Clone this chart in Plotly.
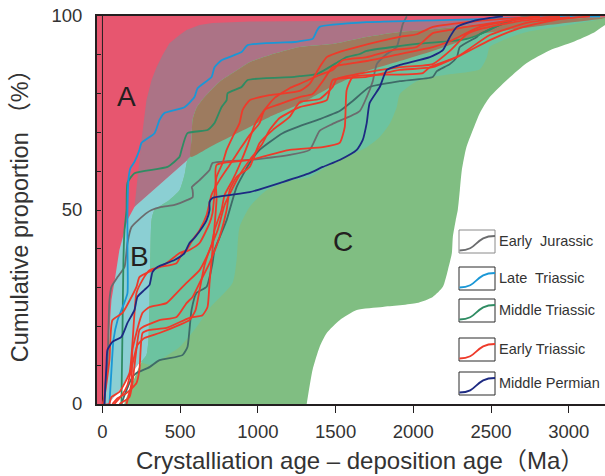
import plotly.graph_objects as go

# ---------------- field boundaries (x: Ma, y: %) ----------------
b_left_x = [13, 26, 45, 58, 84, 109, 161, 206, 219, 238, 251, 283, 316, 348, 386, 431, 496, 541, 625, 708, 947, 1269, 2235, 3233, 3300]
b_left_y = [0, 8.8, 19.1, 26.8, 33.2, 39.7, 47.4, 50.8, 55.1, 62.9, 68, 78.3, 83.5, 86.8, 89.9, 93, 95.1, 96.4, 97.7, 98.2, 98.6, 98.7, 99, 99.2, 99.2]
ab_low_x = [3300, 1500, 600, 547, 219]
ab_low_y = [90, 80, 64, 62.9, 51.3]
b_low_x = [45, 109, 193, 238, 251]
b_low_y = [0.3, 3.6, 8, 10.6, 10.8]
c_up_x = [3300, 3233, 2814, 2428, 2125, 1913, 1700, 1481, 1269, 1075, 947, 850, 753, 657, 605, 580, 573, 567]
c_up_y = [99.7, 99.7, 99.0, 97.9, 96.6, 95.9, 94.6, 92.8, 92.0, 89.9, 88.1, 85.6, 83.0, 79.1, 76.3, 73.2, 68.0, 63.7]
c_left_x = [547, 528, 496, 431, 335, 316, 309, 303, 296, 283, 251, 219, 174, 142, 142]
c_left_y = [62.9, 59.0, 55.1, 52.6, 50.0, 47.4, 39.7, 26.8, 16.5, 12.6, 10.8, 8.0, 3.6, 0.3, 0]
c_right_x = [1314, 1352, 1397, 1443, 1526, 1636, 1803, 2022, 2125, 2190, 2222, 2248, 2254, 2273, 2286, 2299, 2312, 2340, 2383, 2428, 2492, 2602, 2730, 2879, 3027, 3156, 3233, 3300]
c_right_y = [0, 8.8, 14.7, 18.3, 21.6, 24.2, 25, 26, 27.6, 30.2, 34.5, 38.9, 43, 47.4, 50, 55, 60.3, 66, 70.6, 75, 79.1, 83.5, 87.9, 91.2, 93.3, 95.6, 97.7, 99.5]
bc_edge_x = [251, 303, 367, 496, 605, 689, 837, 863, 882, 947, 1056, 1204, 1333, 1481, 1526, 1700, 1784, 1848, 1893, 1913, 2022, 2125, 2235, 2428, 2473, 2492, 2705, 2924, 3181, 3233, 3300]
bc_edge_y = [10.8, 10.1, 11.3, 14.7, 19.8, 24.7, 31.2, 37.1, 45.6, 50.8, 55.1, 57.5, 58.5, 62.1, 62.9, 66.2, 68.8, 72.2, 76.5, 79.9, 83.2, 84.3, 85, 86.3, 89.4, 92, 95.6, 97.2, 99, 99.5, 99.7]
a_low_x = [567, 689, 818, 947, 1075, 1269, 1481, 1700, 1913, 2125, 2344, 2428, 2814, 3201, 3233, 3300]
a_low_y = [63.7, 66.2, 68.8, 71.4, 74, 77.3, 81.9, 85.8, 88.4, 91, 94.1, 95.3, 97.4, 99.2, 99.5, 99.7]

# ---------------- cumulative curves ----------------
ej_x = [13, 19, 32, 45, 58, 97, 142, 161, 187, 283, 316, 380, 464, 547, 580, 580, 575, 625, 689, 708, 947, 1204, 1333, 1397, 1481, 1655, 1700, 1739, 1765, 1829, 1893, 1932, 1958]
ej_y = [0, 4.9, 9.5, 26.8, 30.2, 32.7, 35.3, 41.5, 45.6, 49.2, 50, 50.8, 51.3, 52.6, 53.3, 55.1, 55.9, 57.7, 60.3, 62.1, 62.9, 64.2, 65.5, 70.4, 72.2, 75.5, 79.1, 83.2, 87.6, 90.2, 92, 97.9, 99.9]

dt_x = [122, 135, 155, 193, 219, 303, 367, 515, 547, 560, 573, 605, 670, 708, 721, 766, 799, 863, 947, 1011, 1159, 1269, 1397, 1526, 1610, 1719, 1913, 2125, 2151, 2235, 2280, 2299, 2409, 2428, 2557, 2685, 2782]
dt_y = [0, 1.5, 3.6, 7, 8, 9.5, 11.3, 12.6, 14.7, 19.1, 24.2, 28.6, 30.2, 36.3, 39.7, 44.1, 47.4, 55.9, 62.1, 65.5, 69.8, 71.6, 73.4, 75.5, 78.1, 81.7, 83.2, 84.3, 85.8, 87.6, 89.4, 92, 94.6, 95.3, 97.7, 99.5, 99.9]

lt_x = [45, 58, 71, 97, 135, 161, 161, 161, 167, 180, 206, 238, 251, 335, 367, 399, 528, 592, 612, 702, 721, 766, 895, 934, 1236, 1269, 1352, 1378, 1397, 1700, 2428, 2814, 3201]
lt_y = [0, 8.8, 16.5, 21.6, 25.5, 28.6, 39.7, 50, 57.7, 60.8, 62.4, 65.5, 67.3, 69.8, 73.2, 75, 76.5, 79.1, 81.4, 84.3, 86.8, 88.6, 90.7, 92.5, 93.3, 93.5, 94.1, 96.1, 97.2, 98.4, 99.2, 99.7, 99.9]

mt_x = [122, 129, 135, 142, 155, 161, 206, 419, 496, 509, 547, 676, 721, 766, 799, 805, 895, 934, 1236, 1269, 1378, 1526, 1571, 1655, 1700, 2022, 2235, 2344, 2428, 2557, 2685, 2814]
mt_y = [0, 19.1, 37.1, 44.8, 50, 57, 59.5, 61.1, 63.7, 65.5, 69.8, 70.6, 72.4, 76.5, 78.3, 80.1, 81.7, 83.5, 84.3, 84.5, 85, 88.4, 89.4, 90.2, 91, 92.8, 93.5, 94.1, 95.3, 97.7, 99.5, 99.9]

mp_x = [13, 19, 26, 32, 64, 122, 161, 206, 225, 270, 303, 322, 354, 464, 528, 560, 592, 644, 670, 689, 689, 708, 947, 1159, 1333, 1417, 1526, 1636, 1674, 1700, 1719, 1784, 1829, 1913, 2106, 2190, 2235, 2280, 2383, 2492, 2576]
mp_y = [0, 4.9, 10.1, 13.9, 16, 17.3, 20.9, 24.2, 27.6, 29.4, 30.7, 34, 35.3, 37.1, 38.9, 41.5, 42.8, 45.6, 47.4, 50, 52.1, 53.1, 54.6, 57.2, 59.5, 61.1, 62.9, 65.5, 68, 72.4, 77.6, 81.7, 86.1, 87.4, 89.4, 91.2, 94.6, 97.2, 98.7, 99.5, 99.9]

et1_x = [64, 97, 155, 219, 238, 258, 303, 412, 560, 644, 676, 689, 708, 734, 734, 947, 1204, 1417, 1526, 1559, 1571, 1610, 1739, 2061, 2106, 2280, 2492, 2685, 2943, 3136]
et1_y = [0, 1.5, 2.8, 5.4, 8.8, 18.3, 19.1, 19.6, 22.2, 22.9, 25, 31.2, 39.7, 52.6, 61.6, 62.9, 65.5, 66.2, 67.3, 71.4, 80.9, 84.3, 84.8, 85.3, 86.8, 89.4, 93.8, 96.9, 99.2, 99.9]
et2_x = [45, 58, 109, 174, 193, 219, 258, 303, 367, 477, 515, 560, 625, 689, 708, 734, 773, 799, 837, 882, 902, 947, 1075, 1269, 1333, 1397, 1443, 1546, 1636, 1913, 2022, 2125, 2344, 2557, 2814]
et2_y = [0, 1.8, 3.1, 8, 15.7, 28.6, 32, 34.5, 35.3, 36.3, 38.9, 39.7, 41.5, 46.6, 49.2, 58.5, 62.1, 65.5, 68.8, 72.4, 75.8, 78.3, 79.6, 80.7, 82.5, 86.8, 89.4, 91, 92, 94.6, 95.3, 97.2, 98.4, 99.2, 99.9]
et3_x = [0, 13, 26, 45, 64, 129, 219, 238, 322, 412, 496, 541, 580, 625, 670, 702, 753, 818, 882, 947, 1011, 1043, 1140, 1269, 1352, 1417, 1481, 1571, 1700, 1913, 2125, 2235, 2428, 2685, 2943]
et3_y = [0, 1.8, 5.4, 11.3, 21.6, 23.5, 30.2, 32.7, 34.5, 36.3, 38.9, 39.7, 42.3, 44.8, 48.7, 53.9, 57.7, 61.6, 65.5, 69.3, 72.4, 75.8, 77.3, 79.1, 79.9, 83.2, 86.8, 87.6, 88.4, 90.2, 92, 93.5, 97.2, 99.2, 99.9]
et4_x = [109, 174, 193, 238, 258, 367, 477, 541, 580, 625, 689, 753, 799, 818, 863, 947, 1011, 1095, 1204, 1269, 1397, 1481, 1507, 1636, 1913, 2125, 2235, 2344, 2428, 2685, 3007]
et4_y = [0, 1.8, 5.4, 19.1, 19.8, 21.6, 22.4, 26, 27.6, 31.2, 36.3, 43, 50, 55.1, 58.5, 61.1, 67.3, 70.6, 74, 77.8, 78.6, 81.7, 83.8, 85, 86.8, 87.6, 91, 95.3, 96.6, 98.7, 99.7]
et5_x = [155, 187, 193, 258, 303, 412, 477, 541, 625, 670, 702, 721, 766, 786, 837, 882, 934, 979, 1043, 1108, 1204, 1269, 1397, 1481, 1546, 1700, 1868, 2022, 2125, 2235, 2344, 2769]
et5_y = [0, 5.4, 13.9, 23.5, 25, 26, 28.6, 31.2, 34.5, 37.9, 41, 44.8, 50, 53.9, 57.7, 61.6, 66.8, 71.9, 75.8, 78.9, 81.4, 82.5, 84.8, 86.1, 88.6, 89.4, 91.2, 92, 95.6, 96.4, 97.2, 99.7]
et6_x = [77, 122, 161, 199, 225, 270, 367, 496, 560, 599, 625, 657, 689, 741, 786, 831, 882, 947, 1024, 1075, 1140, 1269, 1443, 1481, 1700, 1913, 2125, 2299, 2492, 2750, 3072]
et6_y = [0, 2.1, 4.9, 11.3, 15.2, 17, 18.3, 20.4, 21.6, 24.2, 29.4, 35.8, 39.7, 44.8, 51.3, 55.1, 59, 62.9, 66.8, 70.6, 73.7, 76.5, 78.3, 83.5, 84.3, 86.1, 86.8, 89.9, 95.1, 98.4, 99.7]

x_ticks = [0, 500, 1000, 1500, 2000, 2500, 3000]
y_ticks = [0, 50, 100]
y_minor = [10, 20, 30, 40, 60, 70, 80, 90]
legend_names = ["Early  Jurassic", "Late  Triassic", "Middle Triassic", "Early Triassic", "Middle Permian"]
field_labels = ["A", "B", "C"]
field_label_x = [155, 238, 1546]
field_label_y = [79.3, 37.9, 42.0]

# ---------------- colours ----------------
C_A = "#E7566F"
C_AB = "#AC7386"
C_B = "#8BCFD3"
C_C = "#80BE82"
C_BC = "#6CC3A0"
C_ABC = "#9D7B5F"
COL_EJ = "#6B6C6E"
COL_DT = "#3F6B68"
COL_LT = "#1A97D6"
COL_MT = "#2F8C63"
COL_ET = "#EE3A2A"
COL_MP = "#1D2A82"
legend_cols = [COL_EJ, COL_LT, COL_MT, COL_ET, COL_MP]

fig = go.Figure()


def poly(x, y, color, shape="spline"):
    fig.add_trace(go.Scatter(x=x, y=y, mode="lines", fill="toself", fillcolor=color,
                             line=dict(width=0, color=color, shape=shape, smoothing=0.6),
                             hoverinfo="skip", showlegend=False))


poly([-40, 3300, 3300, -40], [-1, -1, 101, 101], C_A, "linear")
poly(b_left_x[7:] + ab_low_x, b_left_y[7:] + ab_low_y, C_AB, "linear")
lb_x = [13] + b_low_x + [350, 450, 560, 567, 547, 219] + b_left_x[:8][::-1]
lb_y = [0] + b_low_y + [12, 30, 55, 63.7, 62.9, 51.3] + b_left_y[:8][::-1]
poly(lb_x, lb_y, C_B, "linear")
poly([45] + b_low_x + [320, 320], [0] + b_low_y + [10.8, 0], "white", "linear")
poly(c_up_x + c_left_x + [3300], c_up_y + c_left_y + [0], C_C)
poly(c_right_x + [3300], c_right_y + [0], "white")
poly(c_up_x + c_left_x[:11] + bc_edge_x[1:], c_up_y + c_left_y[:11] + bc_edge_y[1:], C_BC)
poly(c_up_x + a_low_x[1:], c_up_y + a_low_y[1:], C_ABC)

fig.add_trace(go.Scatter(x=[0, 0], y=[0, 100], mode="lines", line=dict(color="#231F20", width=1),
                         hoverinfo="skip", showlegend=False))

curves = [
    (ej_x, ej_y, COL_EJ), (dt_x, dt_y, COL_DT), (mt_x, mt_y, COL_MT), (lt_x, lt_y, COL_LT),
    (et1_x, et1_y, COL_ET), (et2_x, et2_y, COL_ET), (et3_x, et3_y, COL_ET),
    (et4_x, et4_y, COL_ET), (et5_x, et5_y, COL_ET), (et6_x, et6_y, COL_ET),
    (mp_x, mp_y, COL_MP),
]
for cx, cy, col in curves:
    fig.add_trace(go.Scatter(x=cx, y=cy, mode="lines",
                             line=dict(color=col, width=1.8, shape="spline", smoothing=0.5),
                             hoverinfo="skip", showlegend=False))

for t, lx, ly in zip(field_labels, field_label_x, field_label_y):
    fig.add_annotation(x=lx, y=ly, xref="x", yref="y", text=t, showarrow=False,
                       font=dict(size=28, color="#231F20"), xanchor="center", yanchor="middle")

# ---------------- legend (drawn) ----------------
L, R, T, B = 97, 605, 16, 404


def px(v):
    return (v - L) / (R - L)


def py(v):
    return (B - v) / (B - T)


box_tops = [230, 267, 299, 338, 372]
box_h = 23
bx0, bx1 = 459, 495
shapes = []
for i, (name, col) in enumerate(zip(legend_names, legend_cols)):
    top = box_tops[i]
    bot = top + box_h
    border = "#8a8a8a" if i == 0 else "#2b2b2b"
    shapes.append(dict(type="rect", xref="paper", yref="paper", x0=px(bx0), x1=px(bx1),
                       y0=py(bot), y1=py(top), line=dict(color=border, width=1), fillcolor="white",
                       layer="above"))
    ys, ye = bot - 2.5, top + 6
    path = "M {:.4f},{:.4f} C {:.4f},{:.4f} {:.4f},{:.4f} {:.4f},{:.4f}".format(
        px(bx0 + 0.5), py(ys), px(479), py(ys), px(474), py(ye), px(bx1), py(ye))
    shapes.append(dict(type="path", xref="paper", yref="paper", path=path,
                       line=dict(color=col, width=1.8), layer="above"))
    fig.add_annotation(x=px(497), y=py(top + box_h / 2 - 0.5), xref="paper", yref="paper",
                       text=name, showarrow=False, xanchor="left", yanchor="middle",
                       font=dict(size=14.5, color="#333333"))

fig.add_annotation(x=px(360), y=py(461), xref="paper", yref="paper",
                   text="Crystalliation age – deposition age（Ma）", showarrow=False,
                   xanchor="center", yanchor="middle", font=dict(size=24, color="#333333"))

fig.update_layout(
    width=605, height=476,
    margin=dict(l=97, r=0, t=16, b=72, pad=0),
    paper_bgcolor="white", plot_bgcolor="white",
    font=dict(family="Liberation Sans, Arial, Noto Sans CJK SC, sans-serif", color="#231F20"),
    showlegend=False,
    shapes=shapes,
)
fig.update_xaxes(range=[-35, 3233], tickvals=x_ticks, ticks="outside", ticklen=7, tickwidth=1,
                 tickcolor="#231F20", showline=True, linewidth=2, linecolor="#231F20", mirror=True,
                 showgrid=False, zeroline=False, tickfont=dict(size=18.5, color="#333333"),
                 ticklabelstandoff=3)
fig.update_yaxes(range=[0, 100], tickvals=y_ticks, ticks="inside", ticklen=4, tickwidth=1,
                 tickcolor="#231F20", showline=True, linewidth=2, linecolor="#231F20",
                 showgrid=False, zeroline=False, tickfont=dict(size=18.5, color="#333333"),
                 minor=dict(tickvals=y_minor, ticks="inside", ticklen=4, tickwidth=1, tickcolor="#231F20"),
                 ticklabelstandoff=9,
                 title=dict(text="Cumulative proportion （%）", font=dict(size=23.5, color="#333333"), standoff=16))

fig.write_html("out.html")
